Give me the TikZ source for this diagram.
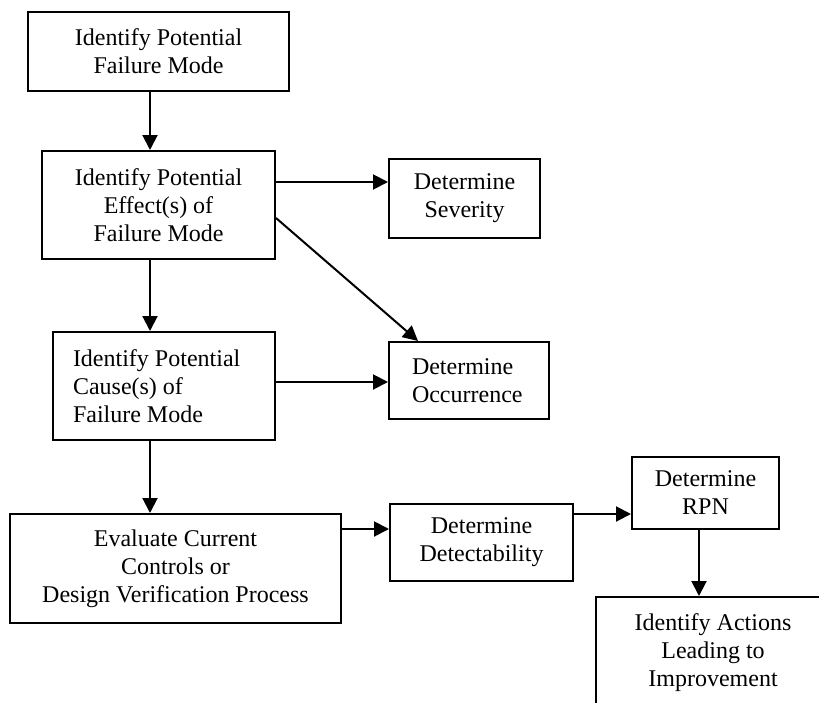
\documentclass[tikz,border=0pt]{standalone}
\usepackage{fontspec}
\setmainfont{Liberation Serif}
\usetikzlibrary{arrows.meta}

\tikzset{
	stage/.style={draw, line width=2pt, inner sep=0pt, align=center, font=\fontsize{24}{28}\selectfont},
	flow/.style={line width=2pt, -{Triangle[length=15pt,width=15pt]}}
}

\begin{document}
\begin{tikzpicture}[x=1pt,y=-1pt]
		\clip (0,0) rectangle (819,702);
		\useasboundingbox (0,0) rectangle (819,702);
		\coordinate (spine) at (150,0);
		\node[stage, minimum width=261pt, minimum height=79pt] (ident) at (158.5,51.5) {Identify Potential\\Failure Mode};
		\node[stage, minimum width=233pt, minimum height=108pt] (effect) at (158.5,205) {Identify Potential\\Effect(s) of\\Failure Mode};
		\node[stage, align=flush left, text width=182pt, inner xsep=20pt, minimum height=108pt] (cause) at (164,386) {Identify Potential\\Cause(s) of\\Failure Mode};
		\node[stage, minimum width=331pt, minimum height=109pt] (evaluate) at (175.5,568.5) {Evaluate Current\\Controls or\\Design Verification Process};
		\node[stage, minimum width=151pt, minimum height=79pt] (severity) at (464.5,198.5) {Determine\\Severity};
		\node[stage, align=flush left, text width=114pt, inner xsep=23pt, minimum height=77pt] (occur) at (469,380.5) {Determine\\Occurrence};
		\node[stage, minimum width=183pt, minimum height=77pt] (detect) at (481.5,542.5) {Determine\\Detectability};
		\node[stage, minimum width=147pt, minimum height=72pt] (rpn) at (705.5,493) {Determine\\RPN};
		\node[stage, minimum width=234pt, minimum height=112pt] (actions) at (713,653) {Identify Actions\\Leading to\\Improvement};
		% main column
		\draw[flow] (ident.south -| spine) -- (effect.north -| spine);
		\draw[flow] (effect.south -| spine) -- (cause.north -| spine);
		\draw[flow] (cause.south -| spine) -- (evaluate.north -| spine);
		% side branches
		\draw[flow] ([yshift=23pt]effect.east) coordinate (e1) -- (e1 -| severity.west);
		\draw[flow] ([yshift=-13pt]effect.east) -- ([xshift=-51pt]occur.north);
		\draw[flow] ([yshift=4pt]cause.east) coordinate (c1) -- (c1 -| occur.west);
		\draw[flow] ([yshift=39.5pt]evaluate.east) coordinate (v1) -- (v1 -| detect.west);
		\draw[flow] ([yshift=28.5pt]detect.east) coordinate (d1) -- (d1 -| rpn.west);
		\draw[flow] ([xshift=-6.5pt]rpn.south) coordinate (r1) -- (r1 |- actions.north);
	\end{tikzpicture}
\end{document}
